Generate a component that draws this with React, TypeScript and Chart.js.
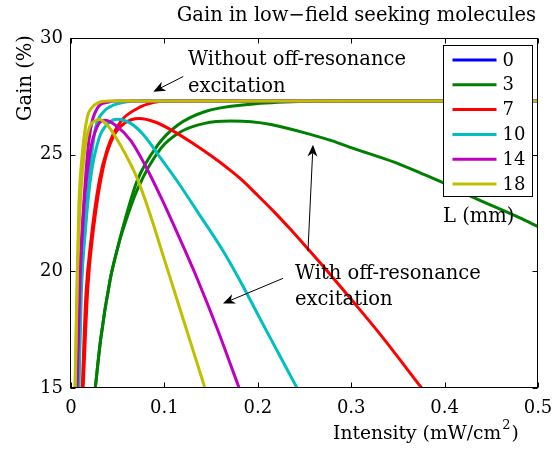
import React, { useEffect, useRef } from "react";
import { Chart, registerables } from "chart.js";

Chart.register(...registerables);

// ---------- data ----------
const L_LABELS = ["0", "3", "7", "10", "14", "18"];
const COLORS = ["#0000ff", "#008000", "#ff0000", "#00bfbf", "#bf00bf", "#bfbf00"];

const X_TICKS = [0, 0.1, 0.2, 0.3, 0.4, 0.5];
const X_TICK_LABELS = ["0", "0.1", "0.2", "0.3", "0.4", "0.5"];
const Y_TICKS = [15, 20, 25, 30];
const Y_TICK_LABELS = ["15", "20", "25", "30"];

const TITLE = "Gain in low\u2212field seeking molecules";
const X_TITLE = "Intensity (mW/cm";
const X_TITLE_SUP = "2";
const Y_TITLE = "Gain (%)";
const LEGEND_TITLE = "L (mm)";
const NOTE_WITHOUT = ["Without off-resonance", "excitation"];
const NOTE_WITH = ["With off-resonance", "excitation"];

// [intensity (mW/cm^2), gain (%)]
const gainL0Without: number[][] = [];
const gainL0With: number[][] = [];

const gainL3Without = [
  [0.026, 15], [0.0317, 17.07], [0.042, 19.66], [0.0496, 20.95], [0.055, 21.8],
  [0.071, 23.9], [0.0926, 25.4], [0.114, 26.26], [0.143, 26.84], [0.193, 27.16],
  [0.25, 27.28], [0.3, 27.3], [0.5, 27.3],
];
const gainL3With = [
  [0.026, 15], [0.0317, 17.07], [0.042, 19.66], [0.0496, 20.95], [0.055, 21.7],
  [0.071, 23.5], [0.096, 25.26], [0.1176, 25.98], [0.143, 26.34], [0.171, 26.44],
  [0.193, 26.41], [0.214, 26.29], [0.257, 25.86], [0.279, 25.6], [0.303, 25.26],
  [0.346, 24.68], [0.375, 24.2], [0.397, 23.82], [0.432, 23.15], [0.48, 22.3], [0.5, 21.92],
];

const gainL7Without = [
  [0.012, 15], [0.016, 19], [0.021, 21.2], [0.03, 23.82], [0.039, 25.26],
  [0.053, 26.41], [0.071, 26.98], [0.089, 27.24], [0.107, 27.3], [0.5, 27.3],
];
const gainL7With = [
  [0.013, 15], [0.018, 19.3], [0.024, 21.8], [0.035, 24.54], [0.046, 25.83],
  [0.057, 26.34], [0.073, 26.55], [0.09, 26.4], [0.11, 26.0], [0.13, 25.5],
  [0.15, 24.95], [0.17, 24.35], [0.182, 23.95], [0.2, 23.25], [0.2175, 22.55],
  [0.235, 21.8], [0.255, 20.9], [0.28, 19.75], [0.3, 18.8], [0.33, 17.35], [0.3754, 15],
];

const gainL10Without = [
  [0.008, 15], [0.0105, 19], [0.015, 21.8], [0.02, 24.2], [0.026, 26.1],
  [0.035, 26.84], [0.046, 27.13], [0.06, 27.27], [0.075, 27.3], [0.5, 27.3],
];
const gainL10With = [
  [0.0085, 15], [0.011, 19], [0.0155, 21.8], [0.021, 24], [0.03, 25.7],
  [0.04, 26.35], [0.0496, 26.52], [0.064, 26.34], [0.078, 25.83], [0.096, 24.85],
  [0.114, 23.85], [0.1355, 22.55], [0.164, 20.8], [0.181, 19.6], [0.202, 18.0],
  [0.222, 16.5], [0.242, 15],
];

const gainL14Without = [
  [0.006, 15], [0.009, 19.5], [0.013, 22.5], [0.019, 25.55], [0.028, 26.98],
  [0.039, 27.24], [0.05, 27.3], [0.5, 27.3],
];
const gainL14With = [
  [0.0065, 15], [0.0095, 19.5], [0.014, 22.8], [0.02, 25], [0.028, 26.2],
  [0.037, 26.48], [0.0496, 26.2], [0.064, 25.6], [0.078, 24.65], [0.096, 23.2],
  [0.11, 21.98], [0.121, 20.99], [0.1355, 19.65], [0.157, 17.5], [0.18, 15],
];

const gainL18Without = [
  [0.0043, 15], [0.0065, 19.5], [0.0084, 22.8], [0.012, 25], [0.0174, 26.6],
  [0.022, 27.0], [0.03, 27.24], [0.04, 27.3], [0.5, 27.3],
];
const gainL18With = [
  [0.0045, 15], [0.007, 20], [0.01, 23], [0.015, 25.3], [0.02, 26.2],
  [0.026, 26.45], [0.03, 26.52], [0.039, 26.26], [0.053, 25.4], [0.071, 23.97],
  [0.085, 22.4], [0.1, 20.5], [0.115, 18.6], [0.13, 16.7], [0.143, 15.05],
];

const CURVES_WITHOUT = [gainL0Without, gainL3Without, gainL7Without, gainL10Without, gainL14Without, gainL18Without];
const CURVES_WITH = [gainL0With, gainL3With, gainL7With, gainL10With, gainL14With, gainL18With];

// annotation anchors in data coordinates [intensity, gain]
const ARROW_WITHOUT = [[0.1202, 28.35], [0.0881, 27.7]];
const ARROW_WITH_1 = [[0.227, 19.7], [0.1627, 18.62]];
const ARROW_WITH_2 = [[0.2537, 20.86], [0.2591, 25.43]];
const TEXT_WITHOUT_POS = [0.1253, 29.05];
const TEXT_WITH_POS = [0.2398, 19.87];
const TEXT_L_POS = [0.3983, 22.33];

const FONT = "'DejaVu Serif'";
const TEXT_SIZE = 19.5;
const NUM_SIZE = 18;

function drawArrow(ctx: CanvasRenderingContext2D, x1: number, y1: number, x2: number, y2: number) {
  const ang = Math.atan2(y2 - y1, x2 - x1);
  const len = 12, hw = 5, back = 8.5;
  const bx = x2 - back * Math.cos(ang);
  const by = y2 - back * Math.sin(ang);
  ctx.beginPath();
  ctx.moveTo(x1, y1);
  ctx.lineTo(bx, by);
  ctx.lineWidth = 1;
  ctx.strokeStyle = "#000";
  ctx.stroke();
  const px = -Math.sin(ang), py = Math.cos(ang);
  const hx = x2 - len * Math.cos(ang), hy = y2 - len * Math.sin(ang);
  ctx.beginPath();
  ctx.moveTo(x2, y2);
  ctx.lineTo(hx + px * hw, hy + py * hw);
  ctx.lineTo(bx, by);
  ctx.lineTo(hx - px * hw, hy - py * hw);
  ctx.closePath();
  ctx.fillStyle = "#000";
  ctx.fill();
}

const overlayPlugin = {
  id: "overlay",
  afterDraw(chart: any) {
    const { ctx, chartArea: a, scales } = chart;
    const xs = scales.x, ys = scales.y;
    const X = (v: number) => xs.getPixelForValue(v);
    const Y = (v: number) => ys.getPixelForValue(v);
    ctx.save();

    // frame
    const l = Math.round(a.left) - 0.5, r = Math.round(a.right) - 0.5;
    const t = Math.round(a.top) + 0.5, b = Math.round(a.bottom) - 0.5;
    ctx.strokeStyle = "#000";
    ctx.lineWidth = 1;
    ctx.strokeRect(l, t, r - l, b - t);

    // inward ticks on all sides
    const tl = 5;
    ctx.beginPath();
    X_TICKS.forEach((v) => {
      const p = Math.round(X(v)) + 0.5;
      ctx.moveTo(p, b); ctx.lineTo(p, b - tl);
      ctx.moveTo(p, t); ctx.lineTo(p, t + tl);
    });
    Y_TICKS.forEach((v) => {
      const p = Math.round(Y(v)) + 0.5;
      ctx.moveTo(l, p); ctx.lineTo(l + tl, p);
      ctx.moveTo(r, p); ctx.lineTo(r - tl, p);
    });
    ctx.stroke();

    ctx.fillStyle = "#000";
    ctx.textBaseline = "middle";

    // title
    ctx.font = `${TEXT_SIZE}px ${FONT}`;
    ctx.textAlign = "right";
    ctx.fillText(TITLE, a.right - 2, 16);

    // y title
    ctx.save();
    ctx.translate(26, 78);
    ctx.rotate(-Math.PI / 2);
    ctx.textAlign = "center";
    ctx.fillText(Y_TITLE, 0, 0);
    ctx.restore();

    // x title with superscript
    ctx.textAlign = "left";
    const xtLeft = 333;
    const xtY = 434;
    ctx.font = `18.7px ${FONT}`;
    ctx.fillText(X_TITLE, xtLeft, xtY);
    const w = ctx.measureText(X_TITLE).width;
    ctx.font = `13px ${FONT}`;
    ctx.fillText(X_TITLE_SUP, xtLeft + w + 1, xtY - 8);
    const ws = ctx.measureText(X_TITLE_SUP).width;
    ctx.font = `18.7px ${FONT}`;
    ctx.fillText(")", xtLeft + w + ws + 2, xtY);

    // annotations
    ctx.font = `${TEXT_SIZE}px ${FONT}`;
    ctx.textAlign = "left";
    ctx.fillText(NOTE_WITHOUT[0], X(TEXT_WITHOUT_POS[0]), Y(TEXT_WITHOUT_POS[1]));
    ctx.fillText(NOTE_WITHOUT[1], X(TEXT_WITHOUT_POS[0]), Y(TEXT_WITHOUT_POS[1]) + 27);
    ctx.fillText(NOTE_WITH[0], X(TEXT_WITH_POS[0]), Y(TEXT_WITH_POS[1]));
    ctx.fillText(NOTE_WITH[1], X(TEXT_WITH_POS[0]), Y(TEXT_WITH_POS[1]) + 26);
    ctx.fillText(LEGEND_TITLE, X(TEXT_L_POS[0]), Y(TEXT_L_POS[1]));

    drawArrow(ctx, X(ARROW_WITHOUT[0][0]), Y(ARROW_WITHOUT[0][1]), X(ARROW_WITHOUT[1][0]), Y(ARROW_WITHOUT[1][1]));
    drawArrow(ctx, X(ARROW_WITH_1[0][0]), Y(ARROW_WITH_1[0][1]), X(ARROW_WITH_1[1][0]), Y(ARROW_WITH_1[1][1]));
    drawArrow(ctx, X(ARROW_WITH_2[0][0]), Y(ARROW_WITH_2[0][1]), X(ARROW_WITH_2[1][0]), Y(ARROW_WITH_2[1][1]));

    // legend
    const boxR = Math.round(a.right) - 5.5;
    const boxL = boxR - 89;
    const boxT = Math.round(a.top) + 7.5;
    const rowH = 24.8;
    const boxB = boxT + 151;
    ctx.fillStyle = "#fff";
    ctx.fillRect(boxL, boxT, boxR - boxL, boxB - boxT);
    ctx.strokeStyle = "#000";
    ctx.lineWidth = 1;
    ctx.strokeRect(boxL, boxT, boxR - boxL, boxB - boxT);
    ctx.font = `${NUM_SIZE}px ${FONT}`;
    ctx.textAlign = "left";
    L_LABELS.forEach((lab, i) => {
      const yy = boxT + 14.5 + i * rowH;
      ctx.beginPath();
      ctx.moveTo(boxL + 9, yy);
      ctx.lineTo(boxL + 53, yy);
      ctx.strokeStyle = COLORS[i];
      ctx.lineWidth = 3;
      ctx.stroke();
      ctx.fillStyle = "#000";
      ctx.fillText(lab, boxL + 59, yy + 1);
    });

    ctx.restore();
  },
};

export default function App() {
  const ref = useRef<HTMLCanvasElement | null>(null);

  useEffect(() => {
    document.body.style.margin = "0";
    const canvas = ref.current;
    if (!canvas) return;

    const datasets: any[] = [];
    L_LABELS.forEach((lab, i) => {
      [CURVES_WITHOUT[i], CURVES_WITH[i]].forEach((curve, k) => {
        datasets.push({
          label: `${lab}${k === 0 ? "" : " with"}`,
          data: curve.map(([x, y]) => ({ x, y })),
          borderColor: COLORS[i],
          backgroundColor: COLORS[i],
          borderWidth: 3,
          pointRadius: 0,
          fill: false,
          cubicInterpolationMode: "monotone",
          clip: 0,
          order: 100 - (i * 2 + k),
        });
      });
    });

    const chart = new Chart(canvas, {
      type: "line",
      data: { datasets },
      options: {
        animation: false,
        responsive: false,
        devicePixelRatio: 1,
        layout: { padding: { top: 38, right: 15, left: 0, bottom: 0 } },
        plugins: { legend: { display: false }, tooltip: { enabled: false }, title: { display: false } },
        scales: {
          x: {
            type: "linear",
            min: 0,
            max: 0.5,
            grid: { display: false, drawTicks: false },
            border: { display: false },
            afterBuildTicks: (s: any) => { s.ticks = X_TICKS.map((v) => ({ value: v })); },
            afterFit: (s: any) => { s.height = 63; s.paddingLeft = 0; s.paddingRight = 0; },
            ticks: {
              color: "#000",
              padding: 10,
              maxRotation: 0,
              autoSkip: false,
              font: { family: FONT, size: NUM_SIZE },
              callback: (_v: any, idx: number) => X_TICK_LABELS[idx],
            },
          },
          y: {
            type: "linear",
            min: 15,
            max: 30,
            grid: { display: false, drawTicks: false },
            border: { display: false },
            afterBuildTicks: (s: any) => { s.ticks = Y_TICKS.map((v) => ({ value: v })); },
            afterFit: (s: any) => { s.width = 71; s.paddingTop = 0; s.paddingBottom = 0; },
            ticks: {
              color: "#000",
              padding: 8,
              autoSkip: false,
              font: { family: FONT, size: NUM_SIZE },
              callback: (_v: any, idx: number) => Y_TICK_LABELS[idx],
            },
          },
        },
      },
      plugins: [overlayPlugin],
    });

    return () => chart.destroy();
  }, []);

  return (
    <div style={{ width: 553, height: 451, background: "#fff" }}>
      <canvas ref={ref} width={553} height={451} style={{ width: 553, height: 451, display: "block" }} />
    </div>
  );
}
